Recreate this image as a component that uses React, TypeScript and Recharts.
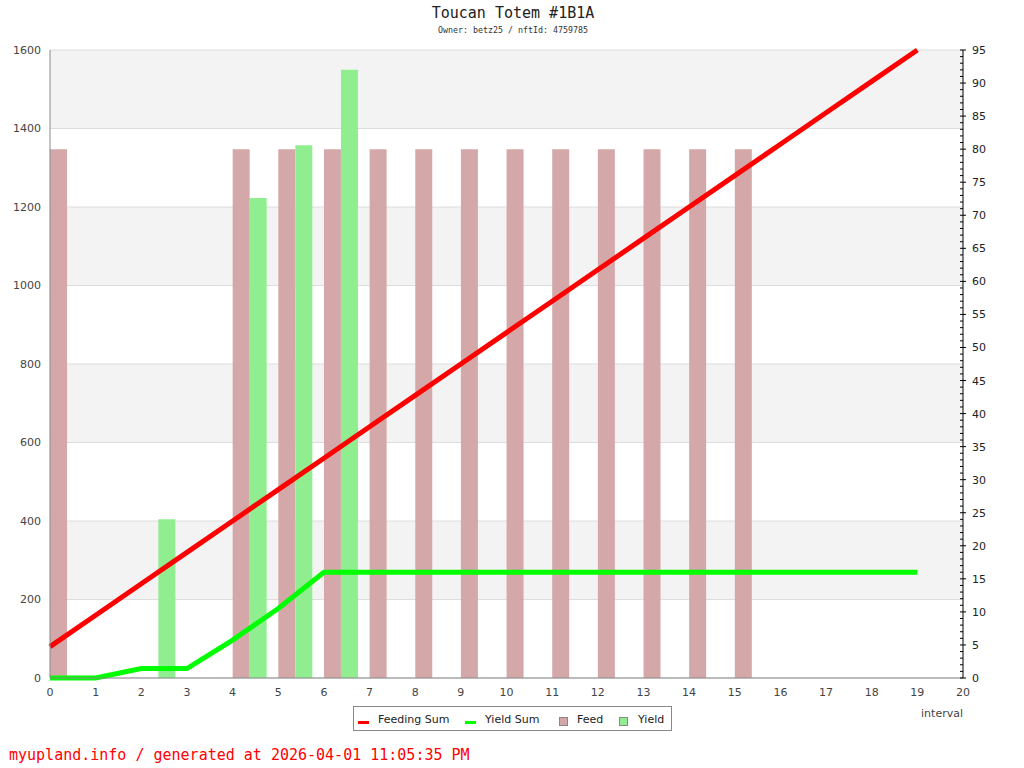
import React from 'react';
import {
    ComposedChart, Bar, Line, XAxis, YAxis, CartesianGrid,
} from 'recharts';

const intervals = [0, 1, 2, 3, 4, 5, 6, 7, 8, 9, 10, 11, 12, 13, 14, 15, 16, 17, 18, 19];
const feed = [80, null, null, null, 80, 80, 80, 80, 80, 80, 80, 80, 80, 80, 80, 80, null, null, null, null];
const yieldValues = [null, null, 24, null, 72.6, 80.6, 92, null, null, null, null, null, null, null, null, null, null, null, null, null];
const feedingSum = [80, 160, 240, 320, 400, 480, 560, 640, 720, 800, 880, 960, 1040, 1120, 1200, 1280, 1360, 1440, 1520, 1600];
const yieldSum = [0, 0, 24, 24, 96.6, 177.2, 269.2, 269.2, 269.2, 269.2, 269.2, 269.2, 269.2, 269.2, 269.2, 269.2, 269.2, 269.2, 269.2, 269.2];

const xTicks = [0, 1, 2, 3, 4, 5, 6, 7, 8, 9, 10, 11, 12, 13, 14, 15, 16, 17, 18, 19, 20];
const leftTicks = [0, 200, 400, 600, 800, 1000, 1200, 1400, 1600];
const rightTicks = Array.from({ length: 96 }, (_, i) => i);

const data = intervals.map((interval, i) => ({
    interval,
    feed: feed[i],
    yield: yieldValues[i],
    feedingSum: feedingSum[i],
    yieldSum: yieldSum[i],
}));

const FONT = '"DejaVu Sans", sans-serif';
const MONO = '"DejaVu Sans Mono", monospace';

// right axis: small tick every unit, longer tick + label every 5
const RightTick = (props: any) => {
    const { x, y, payload } = props;
    const major = payload.value % 5 === 0;
    return (
        <g>
            <line x1={x - 3} x2={major ? x + 3 : x} y1={y} y2={y} stroke="#000" strokeWidth={1} />
            {major && (
                <text x={x + 9} y={y} dy={4} textAnchor="start" fontSize={11} fontFamily={FONT} fill="#222">
                    {payload.value}
                </text>
            )}
        </g>
    );
};

const legendText: React.CSSProperties = {
    position: 'absolute', fontSize: 11, lineHeight: '13px', fontFamily: FONT, color: '#222', top: 713, whiteSpace: 'nowrap',
};

export default function App() {
    return (
        <div style={{ position: 'absolute', left: 0, top: 0, width: 1024, height: 768, background: '#fff', fontFamily: FONT }}>
            <div style={{ position: 'absolute', top: 6, left: 0, width: 1026, textAlign: 'center', fontFamily: MONO, fontSize: 15, lineHeight: '15px', color: '#222' }}>
                Toucan Totem #1B1A
            </div>
            <div style={{ position: 'absolute', top: 26, left: 0, width: 1026, textAlign: 'center', fontFamily: MONO, fontSize: 8.3, lineHeight: '8px', color: '#333' }}>
                Owner: betz25 / nftId: 4759785
            </div>

            <ComposedChart width={1024} height={768} data={data} barGap={0} margin={{ top: 50, right: 0, left: 0, bottom: 60 }}>
                <CartesianGrid
                    xAxisId="main"
                    yAxisId="left"
                    vertical={false}
                    stroke="#dddddd"
                    horizontalFill={['#f3f3f3', '#ffffff']}
                    fillOpacity={1}
                />
                <XAxis
                    xAxisId="main"
                    dataKey="interval"
                    type="number"
                    domain={[0, 20]}
                    ticks={xTicks}
                    interval={0}
                    tickLine={false}
                    tickSize={0}
                    tickMargin={10}
                    height={30}
                    axisLine={{ stroke: '#888' }}
                    tick={{ fill: '#444', fontSize: 11, fontFamily: FONT }}
                />
                {/* hidden axis for the bars, shifted so each pair starts at its interval */}
                <XAxis
                    xAxisId="bars"
                    orientation="top"
                    height={0}
                    dataKey="interval"
                    type="number"
                    domain={[-0.37, 19.63]}
                    allowDataOverflow
                    hide
                />
                <YAxis
                    yAxisId="left"
                    orientation="left"
                    domain={[0, 1600]}
                    ticks={leftTicks}
                    interval={0}
                    width={50}
                    tickLine={false}
                    tickSize={0}
                    tickMargin={9}
                    axisLine={{ stroke: '#888' }}
                    tick={{ fill: '#444', fontSize: 11, fontFamily: FONT }}
                />
                <YAxis
                    yAxisId="right"
                    orientation="right"
                    domain={[0, 95]}
                    ticks={rightTicks}
                    interval={0}
                    width={61}
                    tickLine={false}
                    tickSize={0}
                    tickMargin={0}
                    axisLine={{ stroke: '#000' }}
                    tick={<RightTick />}
                />
                <Bar xAxisId="bars" yAxisId="right" dataKey="feed" name="Feed" fill="#d4a8a8" barSize={17} isAnimationActive={false} />
                <Bar xAxisId="bars" yAxisId="right" dataKey="yield" name="Yield" fill="#90ee90" barSize={17} isAnimationActive={false} />
                <Line xAxisId="main" yAxisId="left" type="linear" dataKey="feedingSum" name="Feeding Sum" stroke="#ff0000" strokeWidth={5} dot={false} isAnimationActive={false} />
                <Line xAxisId="main" yAxisId="left" type="linear" dataKey="yieldSum" name="Yield Sum" stroke="#00ff00" strokeWidth={5} dot={false} isAnimationActive={false} />
            </ComposedChart>

            <div style={{ position: 'absolute', left: 920, width: 43, top: 707, textAlign: 'right', fontSize: 11, lineHeight: '13px', color: '#444', fontFamily: FONT }}>
                interval
            </div>

            <div style={{ position: 'absolute', left: 353, top: 706, width: 317, height: 23, border: '1px solid #888', background: '#fff' }} />
            <div style={{ position: 'absolute', left: 358, top: 721, width: 11, height: 2.5, background: '#ff0000' }} />
            <div style={{ ...legendText, left: 378 }}>Feeding Sum</div>
            <div style={{ position: 'absolute', left: 465, top: 721, width: 11, height: 2.5, background: '#00ff00' }} />
            <div style={{ ...legendText, left: 485 }}>Yield Sum</div>
            <div style={{ position: 'absolute', left: 559, top: 717, width: 7, height: 7, border: '1px solid #888', background: '#d4a8a8' }} />
            <div style={{ ...legendText, left: 577 }}>Feed</div>
            <div style={{ position: 'absolute', left: 619, top: 717, width: 7, height: 7, border: '1px solid #888', background: '#90ee90' }} />
            <div style={{ ...legendText, left: 638 }}>Yield</div>

            <div style={{ position: 'absolute', left: 9, top: 748, fontFamily: MONO, fontSize: 15, lineHeight: '15px', color: '#ff0000', whiteSpace: 'nowrap' }}>
                myupland.info / generated at 2026-04-01 11:05:35 PM
            </div>
        </div>
    );
}
